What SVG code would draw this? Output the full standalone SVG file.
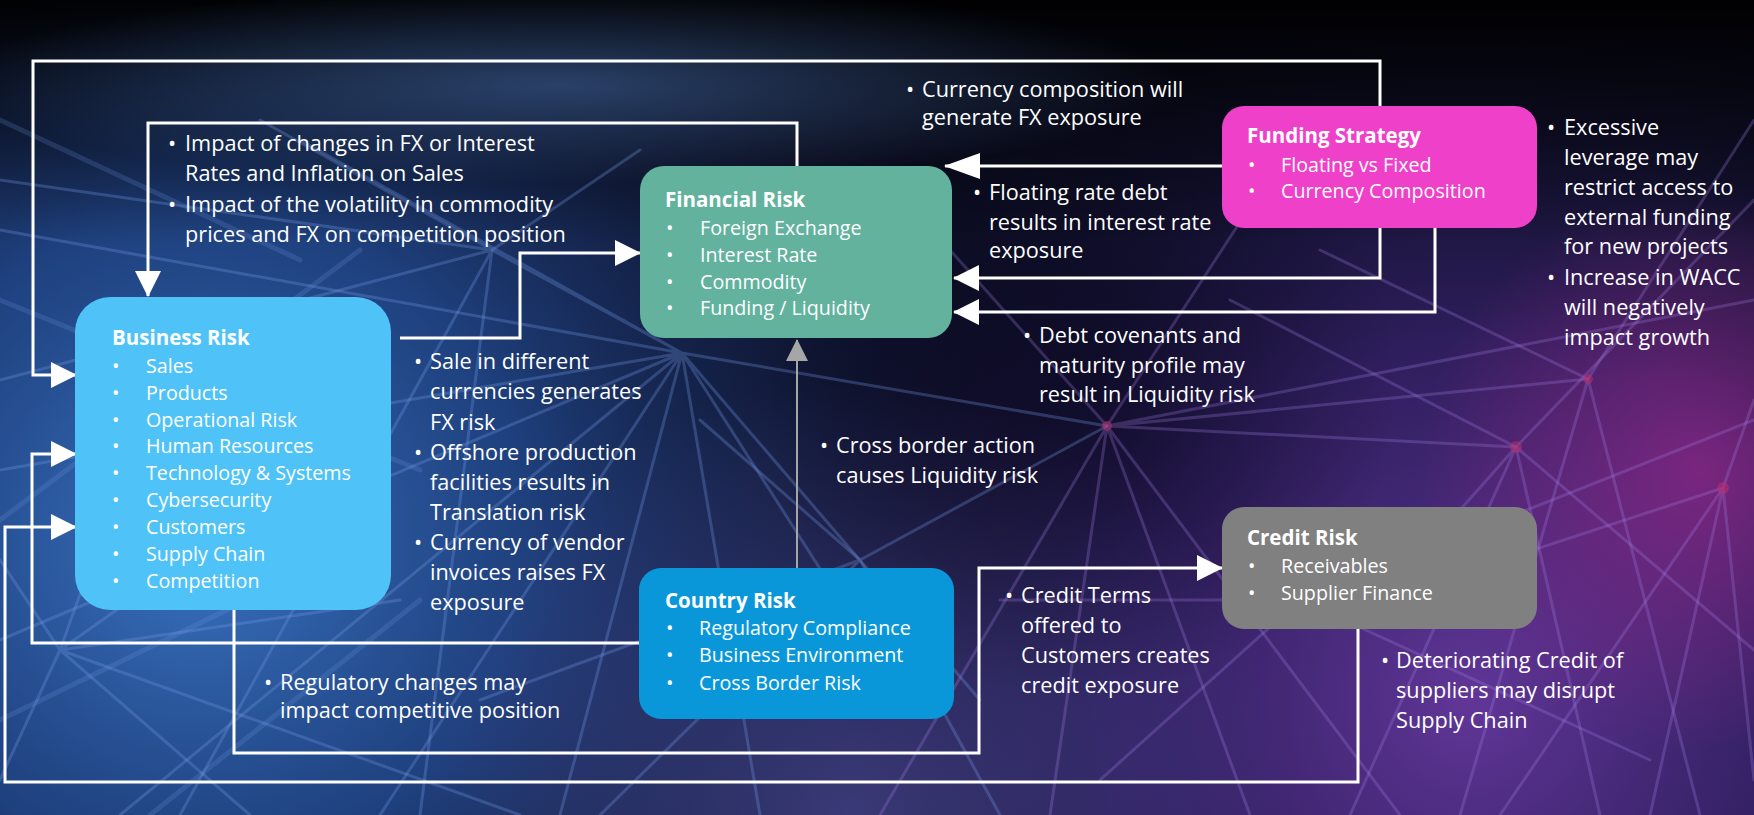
<svg xmlns="http://www.w3.org/2000/svg" width="1754" height="815" viewBox="0 0 1754 815">
<defs>
<radialGradient id="gBlue" cx="200" cy="540" r="820" gradientUnits="userSpaceOnUse">
<stop offset="0" stop-color="#3a74c2" stop-opacity="1"/>
<stop offset="0.4" stop-color="#24509a" stop-opacity="0.75"/>
<stop offset="1" stop-color="#101535" stop-opacity="0"/>
</radialGradient>
<radialGradient id="gPurple" cx="1470" cy="700" r="720" gradientUnits="userSpaceOnUse">
<stop offset="0" stop-color="#66389e" stop-opacity="0.95"/>
<stop offset="0.5" stop-color="#40267a" stop-opacity="0.65"/>
<stop offset="1" stop-color="#1a1440" stop-opacity="0"/>
</radialGradient>
<radialGradient id="gMid" cx="850" cy="815" r="440" gradientUnits="userSpaceOnUse">
<stop offset="0" stop-color="#4b4a96" stop-opacity="0.7"/>
<stop offset="1" stop-color="#4b4a96" stop-opacity="0"/>
</radialGradient>
<radialGradient id="gDark" cx="1080" cy="380" r="320" gradientUnits="userSpaceOnUse">
<stop offset="0" stop-color="#07061a" stop-opacity="0.6"/>
<stop offset="1" stop-color="#07061a" stop-opacity="0"/>
</radialGradient>
<radialGradient id="gMag" cx="1700" cy="470" r="280" gradientUnits="userSpaceOnUse">
<stop offset="0" stop-color="#a82a92" stop-opacity="0.6"/>
<stop offset="1" stop-color="#a82a92" stop-opacity="0"/>
</radialGradient>
<radialGradient id="gHaze" cx="560" cy="85" r="620" gradientUnits="userSpaceOnUse" gradientTransform="translate(560 85) scale(1 0.16) translate(-560 -85)">
<stop offset="0" stop-color="#40649c" stop-opacity="0.6"/>
<stop offset="1" stop-color="#40649c" stop-opacity="0"/>
</radialGradient>
<linearGradient id="gTop" x1="0" y1="0" x2="0" y2="1">
<stop offset="0" stop-color="#000" stop-opacity="0.95"/>
<stop offset="0.1" stop-color="#000" stop-opacity="0.6"/>
<stop offset="0.3" stop-color="#000" stop-opacity="0"/>
</linearGradient>
<marker id="arrow" markerUnits="userSpaceOnUse" markerWidth="26" markerHeight="26" viewBox="0 0 26 26" refX="25" refY="13" orient="auto">
<path d="M0,0 L26,13 L0,26 Z" fill="#ffffff"/>
</marker>
<marker id="arrowLong" markerUnits="userSpaceOnUse" markerWidth="36" markerHeight="26" viewBox="0 0 36 26" refX="35" refY="13" orient="auto">
<path d="M0,0 L36,13 L0,26 Z" fill="#ffffff"/>
</marker>
<marker id="arrowGray" markerUnits="userSpaceOnUse" markerWidth="22" markerHeight="22" viewBox="0 0 22 22" refX="21" refY="11" orient="auto">
<path d="M0,0 L22,11 L0,22 Z" fill="#a6a6a6"/>
</marker>
</defs>
<style>
.node text{font-family:"Open Sans","Noto Sans","Liberation Sans",sans-serif;fill:#ffffff}
.title{font-weight:bold;font-size:20.5px}
.item{font-size:19.7px}
.lbl{font-family:"Open Sans","Noto Sans","Liberation Sans",sans-serif;font-size:21.7px;fill:#ffffff}
.conn{fill:none;stroke:#ffffff;stroke-width:3}
.net{stroke-linecap:round;fill:none}
</style>

<g id="background">
<rect x="0" y="0" width="1754" height="815" fill="#0d0f26"/>
<rect x="0" y="0" width="1754" height="815" fill="url(#gBlue)"/>
<rect x="0" y="0" width="1754" height="815" fill="url(#gPurple)"/>
<rect x="0" y="0" width="1754" height="815" fill="url(#gMid)"/>
<rect x="0" y="0" width="1754" height="815" fill="url(#gMag)"/>
<rect x="0" y="0" width="1754" height="815" fill="url(#gDark)"/>
<rect x="0" y="0" width="1754" height="815" fill="url(#gTop)"/>
<rect x="0" y="0" width="1754" height="815" fill="url(#gHaze)"/>
<g class="net" stroke="#7399e6" stroke-opacity="0.3" stroke-width="3">
<path d="M682,353 L0,230 M682,353 L0,470 M682,353 L120,815 M682,353 L380,815 M682,353 L560,815 M682,353 L760,815 M682,353 L980,700 M682,353 L1107,426 M682,353 L492,250 M682,353 L300,140 M682,353 L840,600 M682,353 L0,640"/>
<path d="M492,250 L0,180 M492,250 L0,380 M492,250 L180,815 M492,250 L260,120 M492,250 L640,150 M492,250 L420,815"/>
<path d="M60,650 L0,560 M60,650 L250,815 M60,650 L400,600 M60,650 L300,480 M60,650 L0,780 M60,650 L150,400 M60,650 L520,815"/>
<path d="M860,560 L600,815 M860,560 L1000,815 M860,560 L700,420 M860,560 L1107,426 M860,560 L480,700"/>
</g>
<g class="net" stroke="#7399e6" stroke-opacity="0.2" stroke-width="5">
<path d="M0,300 L420,470 M0,520 L360,250 M0,720 L330,560 M150,815 L420,600 M0,120 L300,260"/>
</g>
<g class="net" stroke="#a07ce2" stroke-opacity="0.28" stroke-width="3">
<path d="M1107,426 L880,815 M1107,426 L1050,815 M1107,426 L1250,815 M1107,426 L1516,447 M1107,426 L1588,379 M1107,426 L1754,300 M1107,426 L1300,130 M1107,426 L950,250 M1107,426 L1400,815"/>
<path d="M1516,447 L1754,200 M1516,447 L1754,650 M1516,447 L1600,815 M1516,447 L1350,815 M1516,447 L1230,300 M1516,447 L1380,600"/>
<path d="M1723,488 L1754,400 M1723,488 L1500,815 M1723,488 L1650,815 M1723,488 L1380,600 M1723,488 L1754,780"/>
<path d="M1588,379 L1754,120 M1588,379 L1460,815 M1588,379 L1700,815 M1588,379 L1320,250"/>
<path d="M1300,600 L1100,780 M1300,600 L1650,760 M1300,600 L1754,420 M1300,600 L1000,600"/>
</g>
<g fill="#c0306a" fill-opacity="0.5">
<circle cx="1107" cy="426" r="5"/>
<circle cx="1516" cy="447" r="6"/>
<circle cx="1723" cy="488" r="6"/>
<circle cx="1588" cy="379" r="5"/>
</g>
</g>

<g id="connectors">
<path class="conn" d="M1380,106 V61 H33 V375 H76" marker-end="url(#arrow)"/>
<path class="conn" d="M797,166 V123 H148 V296" marker-end="url(#arrow)"/>
<path class="conn" d="M400,338 H520 V253 H640" marker-end="url(#arrow)"/>
<path class="conn" d="M1222,166 H945" marker-end="url(#arrowLong)"/>
<path class="conn" d="M1380,228 V278 H954" marker-end="url(#arrow)"/>
<path class="conn" d="M1435,228 V312 H954" marker-end="url(#arrow)"/>
<path fill="none" stroke="#a6a6a6" stroke-width="2" d="M797,568 V340" marker-end="url(#arrowGray)"/>
<path class="conn" d="M639,643 H32 V454 H76" marker-end="url(#arrow)"/>
<path class="conn" d="M234,610 V753 H979 V568 H1222" marker-end="url(#arrow)"/>
<path class="conn" d="M1358,629 V782 H5 V527 H76" marker-end="url(#arrow)"/>
</g>

<g id="business-risk" class="node">
<rect x="75" y="297" width="316" height="313" rx="35" fill="#4fc3f7"/>
<text class="title" x="112" y="345">Business Risk</text>
<text class="item"><tspan x="112" y="373">•</tspan><tspan x="146" y="373">Sales</tspan>
<tspan x="112" y="400">•</tspan><tspan x="146" y="400">Products</tspan>
<tspan x="112" y="427">•</tspan><tspan x="146" y="427">Operational Risk</tspan>
<tspan x="112" y="453">•</tspan><tspan x="146" y="453">Human Resources</tspan>
<tspan x="112" y="480">•</tspan><tspan x="146" y="480">Technology &amp; Systems</tspan>
<tspan x="112" y="507">•</tspan><tspan x="146" y="507">Cybersecurity</tspan>
<tspan x="112" y="534">•</tspan><tspan x="146" y="534">Customers</tspan>
<tspan x="112" y="561">•</tspan><tspan x="146" y="561">Supply Chain</tspan>
<tspan x="112" y="588">•</tspan><tspan x="146" y="588">Competition</tspan></text>
</g>

<g id="financial-risk" class="node">
<rect x="640" y="166" width="312" height="172" rx="24" fill="#62b29e"/>
<text class="title" x="665" y="207">Financial Risk</text>
<text class="item"><tspan x="666" y="235">•</tspan><tspan x="700" y="235">Foreign Exchange</tspan>
<tspan x="666" y="262">•</tspan><tspan x="700" y="262">Interest Rate</tspan>
<tspan x="666" y="289">•</tspan><tspan x="700" y="289">Commodity</tspan>
<tspan x="666" y="315">•</tspan><tspan x="700" y="315">Funding / Liquidity</tspan></text>
</g>

<g id="funding-strategy" class="node">
<rect x="1222" y="106" width="315" height="122" rx="22" fill="#ee40c8"/>
<text class="title" x="1247" y="143">Funding Strategy</text>
<text class="item"><tspan x="1248" y="172">•</tspan><tspan x="1281" y="172">Floating vs Fixed</tspan>
<tspan x="1248" y="198">•</tspan><tspan x="1281" y="198">Currency Composition</tspan></text>
</g>

<g id="country-risk" class="node">
<rect x="639" y="568" width="315" height="151" rx="22" fill="#0a97da"/>
<text class="title" x="665" y="608">Country Risk</text>
<text class="item"><tspan x="666" y="635">•</tspan><tspan x="699" y="635">Regulatory Compliance</tspan>
<tspan x="666" y="662">•</tspan><tspan x="699" y="662">Business Environment</tspan>
<tspan x="666" y="690">•</tspan><tspan x="699" y="690">Cross Border Risk</tspan></text>
</g>

<g id="credit-risk" class="node">
<rect x="1222" y="507" width="315" height="122" rx="22" fill="#808080"/>
<text class="title" x="1247" y="545">Credit Risk</text>
<text class="item"><tspan x="1248" y="573">•</tspan><tspan x="1281" y="573">Receivables</tspan>
<tspan x="1248" y="600">•</tspan><tspan x="1281" y="600">Supplier Finance</tspan></text>
</g>

<g id="labels">
<text class="lbl"><tspan x="168" y="151">•</tspan><tspan x="185" y="151">Impact of changes in FX or Interest</tspan>
<tspan x="185" y="181">Rates and Inflation on Sales</tspan>
<tspan x="168" y="212">•</tspan><tspan x="185" y="212">Impact of the volatility in commodity</tspan>
<tspan x="185" y="242">prices and FX on competition position</tspan></text>

<text class="lbl"><tspan x="906" y="97">•</tspan><tspan x="922" y="97">Currency composition will</tspan>
<tspan x="922" y="125">generate FX exposure</tspan></text>

<text class="lbl"><tspan x="973" y="200">•</tspan><tspan x="989" y="200">Floating rate debt</tspan>
<tspan x="989" y="230">results in interest rate</tspan>
<tspan x="989" y="258">exposure</tspan></text>

<text class="lbl"><tspan x="1547" y="135">•</tspan><tspan x="1564" y="135">Excessive</tspan>
<tspan x="1564" y="165">leverage may</tspan>
<tspan x="1564" y="195">restrict access to</tspan>
<tspan x="1564" y="225">external funding</tspan>
<tspan x="1564" y="254">for new projects</tspan>
<tspan x="1547" y="285">•</tspan><tspan x="1564" y="285">Increase in WACC</tspan>
<tspan x="1564" y="315">will negatively</tspan>
<tspan x="1564" y="345">impact growth</tspan></text>

<text class="lbl"><tspan x="1023" y="343">•</tspan><tspan x="1039" y="343">Debt covenants and</tspan>
<tspan x="1039" y="373">maturity profile may</tspan>
<tspan x="1039" y="402">result in Liquidity risk</tspan></text>

<text class="lbl"><tspan x="414" y="369">•</tspan><tspan x="430" y="369">Sale in different</tspan>
<tspan x="430" y="399">currencies generates</tspan>
<tspan x="430" y="430">FX risk</tspan>
<tspan x="414" y="460">•</tspan><tspan x="430" y="460">Offshore production</tspan>
<tspan x="430" y="490">facilities results in</tspan>
<tspan x="430" y="520">Translation risk</tspan>
<tspan x="414" y="550">•</tspan><tspan x="430" y="550">Currency of vendor</tspan>
<tspan x="430" y="580">invoices raises FX</tspan>
<tspan x="430" y="610">exposure</tspan></text>

<text class="lbl"><tspan x="820" y="453">•</tspan><tspan x="836" y="453">Cross border action</tspan>
<tspan x="836" y="483">causes Liquidity risk</tspan></text>

<text class="lbl"><tspan x="264" y="690">•</tspan><tspan x="280" y="690">Regulatory changes may</tspan>
<tspan x="280" y="718">impact competitive position</tspan></text>

<text class="lbl"><tspan x="1005" y="603">•</tspan><tspan x="1021" y="603">Credit Terms</tspan>
<tspan x="1021" y="633">offered to</tspan>
<tspan x="1021" y="663">Customers creates</tspan>
<tspan x="1021" y="693">credit exposure</tspan></text>

<text class="lbl"><tspan x="1381" y="668">•</tspan><tspan x="1396" y="668">Deteriorating Credit of</tspan>
<tspan x="1396" y="698">suppliers may disrupt</tspan>
<tspan x="1396" y="728">Supply Chain</tspan></text>
</g>
</svg>
